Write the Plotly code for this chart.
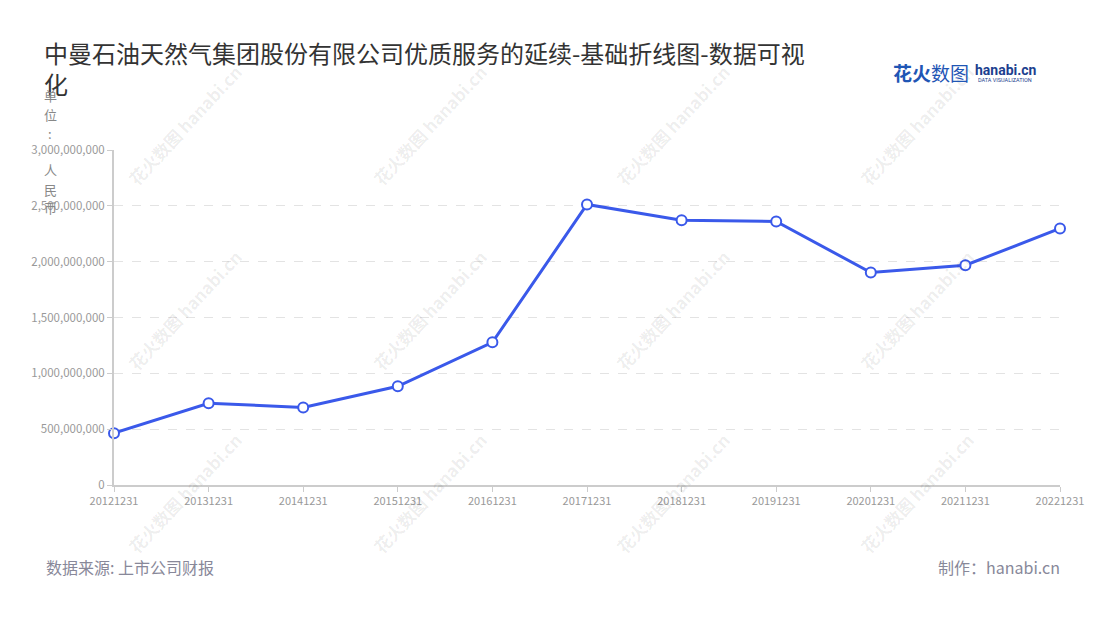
import plotly.graph_objects as go

categories = ["20121231", "20131231", "20141231", "20151231", "20161231", "20171231",
              "20181231", "20191231", "20201231", "20211231", "20221231"]
values = [464000000, 732000000, 695000000, 884000000, 1278000000, 2512000000,
          2371000000, 2360000000, 1903000000, 1968000000, 2297000000]
y_tickvals = [0, 500000000, 1000000000, 1500000000, 2000000000, 2500000000, 3000000000]
y_ticktext = ["0", "500,000,000", "1,000,000,000", "1,500,000,000", "2,000,000,000",
              "2,500,000,000", "3,000,000,000"]
title_text = "中曼石油天然气集团股份有限公司优质服务的延续-基础折线图-数据可视<br>化"
unit_chars = ["单", "位", ":", "人", "民", "币"]
source_text = "数据来源: 上市公司财报"
maker_text = "制作：hanabi.cn"

W, H = 1100, 620
L, R, T, B = 114, 40, 150, 135
FONT = "Noto Sans CJK SC"
BLUE = "#3a59ea"


def px(x, y):
    """pixel position in figure -> paper coordinates"""
    return (x - L) / (W - L - R), (H - B - y) / (H - T - B)


def note(x, y, text, size, color, family=FONT, xanchor="center", angle=0):
    ax, ay = px(x, y)
    return dict(x=ax, y=ay, xref="paper", yref="paper", xanchor=xanchor,
                yanchor="middle", text=text, showarrow=False, textangle=angle,
                font=dict(family=family, size=size, color=color))


fig = go.Figure()
fig.add_trace(go.Scatter(
    x=list(range(len(categories))), y=values, mode="lines+markers",
    line=dict(color=BLUE, width=3),
    marker=dict(size=10, color="white", line=dict(color=BLUE, width=2)),
    cliponaxis=False, hoverinfo="x+y", showlegend=False,
))

annotations = []
# watermarks
for wy in [125, 310, 493]:
    for wx in [184, 429, 672, 916]:
        annotations.append(note(wx, wy, "<b>花火数图 hanabi.cn</b>", 17,
                                "rgba(0,0,0,0.08)", angle=-47))
# unit label (vertical)
unit_y = [95, 115, 134, 170, 189, 207]
for ch, uy in zip(unit_chars, unit_y):
    annotations.append(note(50, uy, ch, 13, "#888888"))

# footer
annotations.append(note(44, 567, source_text, 16, "#888899", xanchor="left"))
annotations.append(note(1062, 567, maker_text, 16, "#888899", xanchor="right"))
# logo
annotations.append(note(891, 73, "<b>花火</b>数图", 19, "#1f56b5", xanchor="left"))
annotations.append(note(973, 70, "<b>hanabi.cn</b>", 14, "#1d3f8f",
                        family="Roboto", xanchor="left"))
annotations.append(note(976, 80, "DATA VISUALIZATION", 5.5, "#1d3f8f",
                        family="Roboto", xanchor="left"))

fig.update_layout(
    width=W, height=H,
    margin=dict(l=L, r=R, t=T, b=B),
    paper_bgcolor="white", plot_bgcolor="white",
    font=dict(family=FONT, color="#999999"),
    title=dict(
        text=title_text, x=44 / W, xref="container", xanchor="left",
        y=1 - 63 / H, yref="container", yanchor="top",
        font=dict(family=FONT, size=24, color="#333333"),
    ),
    xaxis=dict(
        range=[0, len(categories) - 1],
        tickvals=list(range(len(categories))), ticktext=categories,
        showgrid=False, zeroline=False,
        showline=True, linecolor="#cccccc", linewidth=2,
        ticks="outside", ticklen=5, tickcolor="#cccccc",
        tickfont=dict(family=FONT, size=11, color="#999999"),
        fixedrange=True,
    ),
    yaxis=dict(
        range=[0, 3000000000], tickvals=y_tickvals, ticktext=y_ticktext,
        showgrid=True, gridcolor="#e3e3e3", griddash="dash", gridwidth=1,
        zeroline=False, showline=True, linecolor="#cccccc", linewidth=2,
        ticks="outside", ticklen=5, tickcolor="#cccccc",
        tickfont=dict(family=FONT, size=11.5, color="#999999"),
        fixedrange=True,
    ),
    annotations=annotations,
)

fig.write_html("out.html", config={"displayModeBar": False},
               post_script="document.body.style.margin='0px';")
